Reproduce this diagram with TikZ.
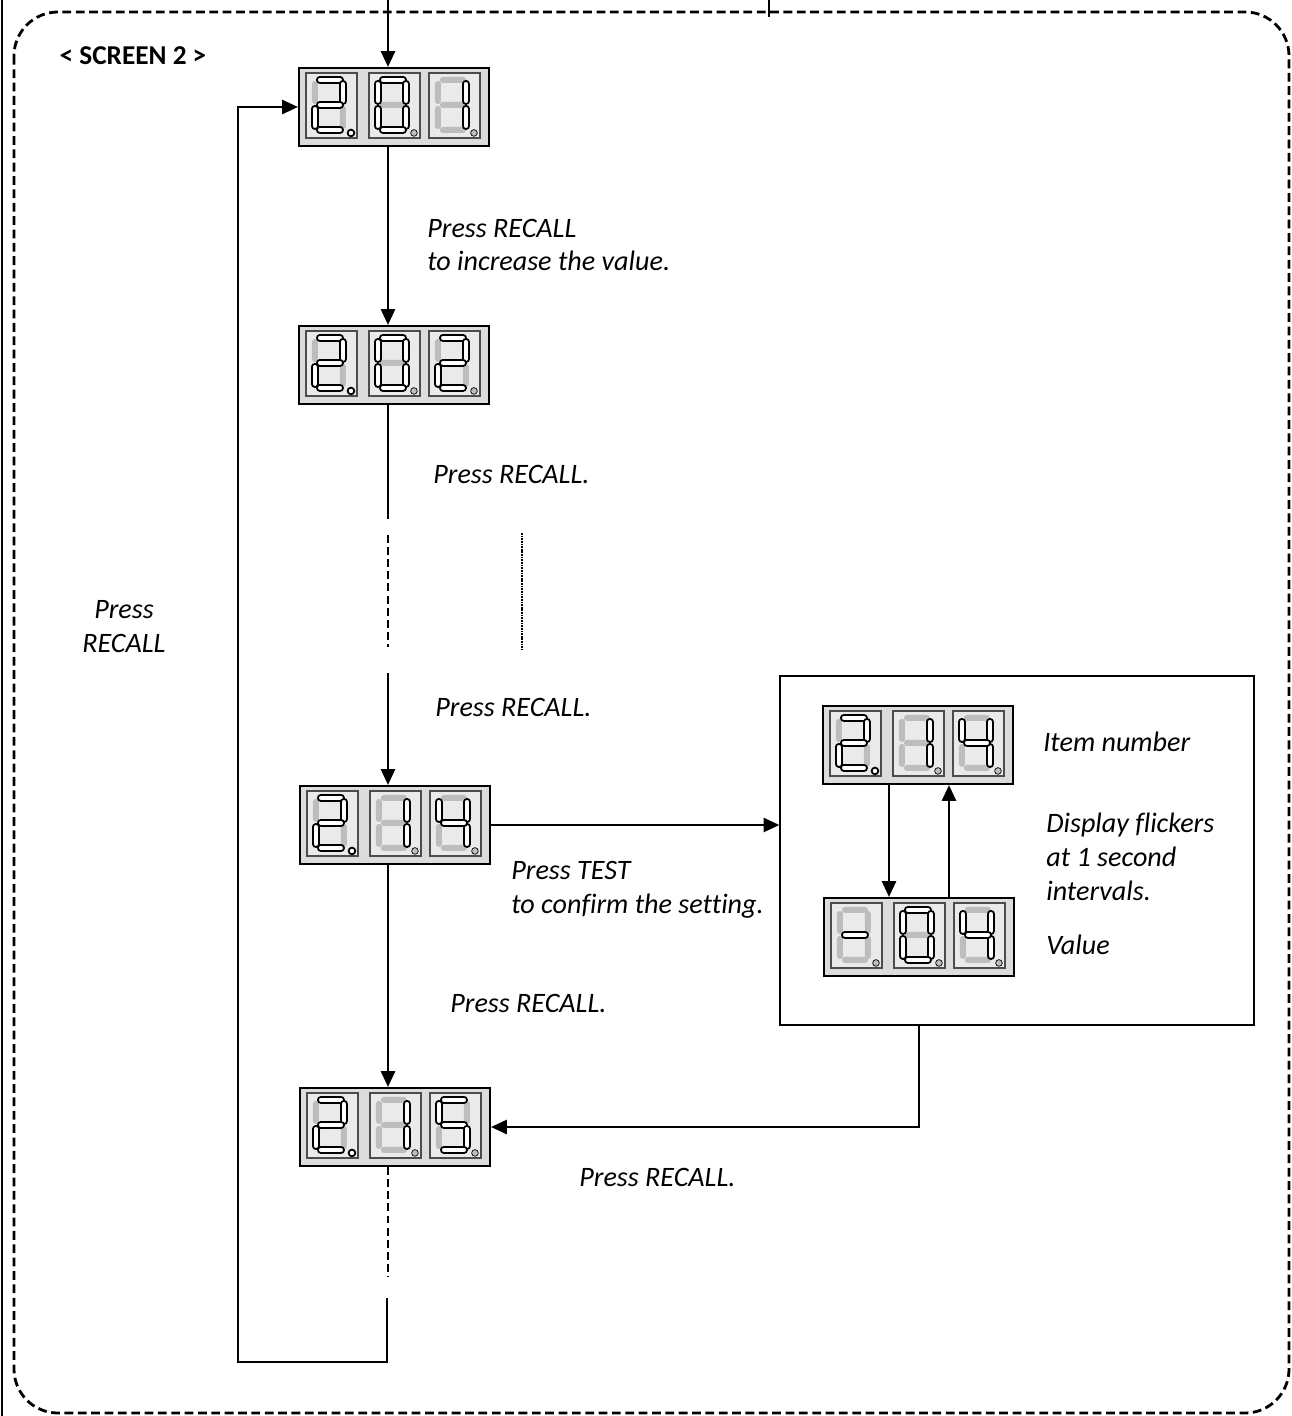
\documentclass[tikz,border=0pt]{standalone}
\usepackage{fontspec}
\setmainfont{Carlito}[Ligatures=NoCommon]
\usetikzlibrary{arrows.meta}

\definecolor{segdim}{HTML}{BDBDBD}
\definecolor{lcdbody}{HTML}{DCDCDC}
\definecolor{lcdpanel}{HTML}{EAEAEA}

\tikzset{
  lcd/.style={draw=black, line width=1.2pt, fill=lcdbody, minimum width=3.8cm, minimum height=1.56cm, inner sep=0pt},
  panel/.style={draw=gray!60!black, line width=0.9pt, fill=lcdpanel},
  segoff/.style={fill=segdim, rounded corners=1.6pt},
  segon/.style={draw=black, fill=white, line width=1pt, rounded corners=1.6pt},
  seg a/.style={insert path={(11,4) rectangle (37,10)}},
  seg b/.style={insert path={(34,8) rectangle (40,31)}},
  seg c/.style={insert path={(34,33) rectangle (40,56)}},
  seg d/.style={insert path={(11,54) rectangle (37,60)}},
  seg e/.style={insert path={(6,33) rectangle (12,56)}},
  seg f/.style={insert path={(6,8) rectangle (12,31)}},
  seg g/.style={insert path={(11,29) rectangle (37,35)}},
}

% one digit of a display: node, x offset, lit segments, dot style
\newcommand\lcdigit[4]{%
  \begin{scope}[shift={(#1.north west)}, shift={(#2,6)}]
    \filldraw[panel] (0,0) rectangle (51,65);
    \foreach \s in {a,b,c,d,e,f,g} \fill[segoff, seg \s];
    \foreach \s in {#3} \filldraw[segon, seg \s];
    \filldraw[#4] (45,60) circle (1.9pt);
  \end{scope}}

% three digits of a display
\newcommand\lcd[5]{%
  \lcdigit{#1}{8}{#2}{#3}%
  \lcdigit{#1}{71}{#4}{segoff}%
  \lcdigit{#1}{131}{#5}{segoff}}

\begin{document}
\begin{tikzpicture}[x=0.02cm, y=-0.02cm,
  arr/.style={-{Triangle[length=9pt, width=8pt]}, line width=1.4pt},
  dashlink/.style={line width=1.6pt, dash pattern=on 4.5pt off 2.4pt},
  note/.style={font=\itshape\fontsize{16}{19.3}\selectfont, align=left, anchor=west, inner sep=0pt}]

    \useasboundingbox (0,0) rectangle (1291,1416);

    % 1. Frame of the screen
    \draw[line width=1.3pt] (2,0) -- (2,1416);
    \draw[line width=1.6pt, dash pattern=on 5pt off 2.6pt, rounded corners=25pt] (14,12) rectangle (1289,1413);
    \draw[line width=1.3pt] (769,0) -- (769,17);
    \node[font=\bfseries\fontsize{15.5}{19}\selectfont] (title) at (133,56) {< SCREEN 2 >};

    % 2. Displays
    \node[lcd] (d1) at (394,107) {};
    \node[lcd] (d2) at (394,365) {};
    \node[lcd] (d3) at (395,825) {};
    \node[lcd] (d4) at (395,1127) {};
    \node[draw, line width=0.8pt, minimum width=9.48cm, minimum height=6.98cm] (flick) at (1017,850.5) {};
    \node[lcd] (dtop) at (918,745) {};
    \node[lcd] (dbot) at (919,937) {};

    \lcd{d1}{a,b,g,e,d}{segon}{a,b,c,d,e,f}{b,c}
    \lcd{d2}{a,b,g,e,d}{segon}{a,b,c,d,e,f}{a,b,g,e,d}
    \lcd{d3}{a,b,g,e,d}{segon}{b,c}{b,c,f,g}
    \lcd{d4}{a,b,g,e,d}{segon}{b,c}{a,f,g,c,d}
    \lcd{dtop}{a,b,g,e,d}{segon}{b,c}{b,c,f,g}
    \lcd{dbot}{g}{segoff}{a,b,c,d,e,f}{b,c,f,g}

    % 3. Main chain
    \coordinate (chain) at (388,0);
    \coordinate (brk1) at (388,519);
    \coordinate (dsh1a) at (388,535);
    \coordinate (dsh1b) at (388,647);
    \coordinate (brk2) at (388,673);
    \coordinate (dot1a) at (522,533);
    \coordinate (dot1b) at (522,650);
    \coordinate (dsh2) at (388,1277);
    \coordinate (ret1) at (387,1298);
    \coordinate (ret2) at (387,1362);
    \coordinate (ret3) at (238,1362);

    \draw[arr] (chain) -- (chain |- d1.north);
    \draw[arr] (d1.south -| chain) -- (d2.north -| chain);
    \draw[line width=0.8pt] (d2.south -| chain) -- (brk1);
    \draw[dashlink] (dsh1a) -- (dsh1b);
    \draw[line width=1.1pt, dash pattern=on 1pt off 0.5pt] (dot1a) -- (dot1b);
    \draw[arr] (brk2) -- (d3.north -| chain);
    \draw[arr] (d3.south -| chain) -- (d4.north -| chain);
    \draw[dashlink] (d4.south -| chain) -- (dsh2);
    \draw[arr] (ret1) -- (ret2) -- (ret3) -- (ret3 |- d1.west) -- (d1.west);

    % 4. Setting box
    \coordinate (dn) at (889,0);
    \coordinate (up) at (949,0);
    \draw[arr] (d3.east) -- (d3.east -| flick.west);
    \draw[arr] (dtop.south -| dn) -- (dbot.north -| dn);
    \draw[arr] (dbot.north -| up) -- (dtop.south -| up);
    \draw[arr] (flick.south -| dbot) -- (dbot |- d4.east) -- (d4.east);

    % 5. Notes
    \node[note] (n1) at (427,245) {Press RECALL\\to increase the value.};
    \node[note] (n2) at (433,474) {Press RECALL.};
    \node[note] (n3) at (435,707) {Press RECALL.};
    \node[note] (n4) at (511,890) {Press TEST\\to confirm the setting.};
    \node[note] (n5) at (450,1003) {Press RECALL.};
    \node[note] (n6) at (579,1177) {Press RECALL.};
    \node[note] (n7) at (1043,742) {Item number};
    \node[note] (n8) at (1046,857) {Display flickers\\at 1 second\\intervals.};
    \node[note] (n9) at (1046,945) {Value};
    \node[note, align=center, anchor=center] (n10) at (124,627) {Press\\RECALL};

\end{tikzpicture}
\end{document}
